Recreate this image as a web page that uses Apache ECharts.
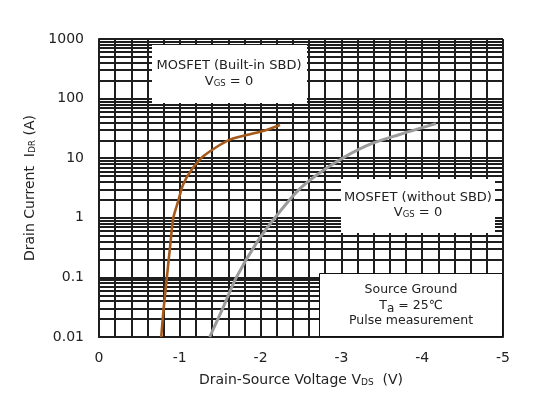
<!DOCTYPE html>
<html>
<head>
<meta charset="utf-8">
<script src="https://cdn.jsdelivr.net/npm/echarts@6/dist/echarts.min.js"></script>
<style>
html,body{margin:0;padding:0;background:#fff;}
#c{width:557px;height:398px;}
</style>
</head>
<body>
<div id="c"></div>
<script>
// Data (V_DS in volts, I_DR in amperes)
var builtInV = [-0.77, -0.80, -0.84, -0.877, -0.92, -0.98, -1.04, -1.15, -1.29, -1.62, -2.03, -2.24];
var builtInI = [0.01, 0.03, 0.1, 0.3, 1.0, 1.9, 3.6, 6.5, 10.8, 20.5, 28.5, 36];
var withoutV = [-1.37, -1.53, -1.70, -1.95, -2.19, -2.50, -2.89, -3.30, -3.72, -4.17];
var withoutI = [0.01, 0.03, 0.1, 0.38, 1.05, 3.2, 7.9, 16, 25, 38];
var yTickLabels = ['0.01', '0.1', '1', '10', '100', '1000'];
var xTickLabels = ['0', '-1', '-2', '-3', '-4', '-5'];
var decadeStarts = [0.01, 0.1, 1, 10, 100];
var minorMultipliers = [2, 3, 4, 5, 6, 7, 8, 9];

var FONT = 'DejaVu Sans';
var GRID_COLOR = '#1e1e1e';

function pairs(xs, ys) {
  return xs.map(function (x, i) { return [x, ys[i]]; });
}

var minorLines = [];
decadeStarts.forEach(function (d) {
  minorMultipliers.forEach(function (m) {
    minorLines.push({ yAxis: +(d * m).toPrecision(3) });
  });
});

var chart = echarts.init(document.getElementById('c'), null, { renderer: 'canvas' });

var subRich = {
  n: { fontFamily: FONT, fontSize: 14, color: '#222' },
  s: { fontFamily: FONT, fontSize: 9, color: '#222', verticalAlign: 'bottom', padding: [4, 0, 0, 0] }
};

chart.setOption({
  backgroundColor: '#ffffff',
  animation: false,
  grid: { left: 99, right: 54, top: 39, bottom: 61, containLabel: false },
  xAxis: {
    type: 'value',
    min: -5, max: 0, interval: 1,
    inverse: true,
    name: '{n|Drain-Source Voltage V}{s|DS}{n|  (V)}',
    nameLocation: 'middle',
    nameGap: 36,
    nameTextStyle: { rich: subRich },
    axisLine: { show: true, lineStyle: { color: GRID_COLOR, width: 2 } },
    axisTick: { show: false },
    axisLabel: {
      margin: 14,
      fontFamily: FONT, fontSize: 14, color: '#222',
      formatter: function (v) {
        var idx = Math.round(-v);
        return xTickLabels[idx] !== undefined ? xTickLabels[idx] : String(v);
      }
    },
    splitLine: { show: true, lineStyle: { color: GRID_COLOR, width: 2 } },
    minorTick: { show: false, splitNumber: 5 },
    minorSplitLine: { show: true, lineStyle: { color: GRID_COLOR, width: 2 } }
  },
  yAxis: {
    type: 'log',
    logBase: 10,
    min: 0.01, max: 1000,
    name: '{n|Drain Current  I}{s|DR}{n| (A)}',
    nameLocation: 'middle',
    nameGap: 55,
    nameRotate: 90,
    nameTextStyle: { rich: subRich },
    axisLine: { show: true, lineStyle: { color: GRID_COLOR, width: 2 } },
    axisTick: { show: false },
    axisLabel: {
      margin: 15,
      fontFamily: FONT, fontSize: 14, color: '#222',
      formatter: function (v) {
        var k = Math.round(Math.log10(v)) + 2;
        return yTickLabels[k] !== undefined ? yTickLabels[k] : String(v);
      }
    },
    splitLine: { show: true, lineStyle: { color: GRID_COLOR, width: 2 } }
  },
  series: [
    {
      type: 'line',
      name: 'grid-minor',
      data: [],
      silent: true,
      markLine: {
        silent: true,
        symbol: ['none', 'none'],
        label: { show: false },
        lineStyle: { color: GRID_COLOR, width: 2, type: 'solid' },
        emphasis: { disabled: true },
        animation: false,
        data: minorLines
      }
    },
    {
      type: 'line',
      name: 'MOSFET (Built-in SBD)',
      data: pairs(builtInV, builtInI),
      showSymbol: false,
      smooth: 0.25,
      lineStyle: { color: '#a5591a', width: 2.6 },
      z: 5
    },
    {
      type: 'line',
      name: 'MOSFET (without SBD)',
      data: pairs(withoutV, withoutI),
      showSymbol: false,
      smooth: 0.3,
      lineStyle: { color: '#9b9b9b', width: 3 },
      z: 5
    }
  ],
  graphic: [
    { type: 'rect', z: 100, shape: { x: 152, y: 45, width: 155, height: 58 }, style: { fill: '#fff' } },
    { type: 'text', z: 101, x: 229, y: 66, style: { text: 'MOSFET (Built-in SBD)', font: '13px "DejaVu Sans"', fill: '#222', align: 'center', verticalAlign: 'middle' } },
    { type: 'text', z: 101, x: 229, y: 82, style: {
        text: '{n|V}{s|GS}{n| = 0}', align: 'center', verticalAlign: 'middle',
        rich: { n: { fontFamily: FONT, fontSize: 13, fill: '#222' }, s: { fontFamily: FONT, fontSize: 8.5, fill: '#222', verticalAlign: 'bottom', padding: [4, 0, 0, 0] } } } },

    { type: 'rect', z: 100, shape: { x: 341, y: 179, width: 154, height: 54 }, style: { fill: '#fff' } },
    { type: 'text', z: 101, x: 418, y: 198, style: { text: 'MOSFET (without SBD)', font: '13px "DejaVu Sans"', fill: '#222', align: 'center', verticalAlign: 'middle' } },
    { type: 'text', z: 101, x: 418, y: 213, style: {
        text: '{n|V}{s|GS}{n| = 0}', align: 'center', verticalAlign: 'middle',
        rich: { n: { fontFamily: FONT, fontSize: 13, fill: '#222' }, s: { fontFamily: FONT, fontSize: 8.5, fill: '#222', verticalAlign: 'bottom', padding: [4, 0, 0, 0] } } } },

    { type: 'rect', z: 100, shape: { x: 319.5, y: 273.5, width: 183, height: 63 }, style: { fill: '#fff', stroke: '#111', lineWidth: 1 } },
    { type: 'text', z: 101, x: 411, y: 290, style: { text: 'Source Ground', font: '12.5px "DejaVu Sans"', fill: '#222', align: 'center', verticalAlign: 'middle' } },
    { type: 'text', z: 101, x: 411, y: 306, style: {
        text: '{n|T}{s|a}{n| = 25℃}', align: 'center', verticalAlign: 'middle',
        rich: { n: { fontFamily: FONT, fontSize: 12.5, fill: '#222' }, s: { fontFamily: FONT, fontSize: 12, fill: '#222', verticalAlign: 'bottom', padding: [6, 0, 0, 0] } } } },
    { type: 'text', z: 101, x: 411, y: 321, style: { text: 'Pulse measurement', font: '12.5px "DejaVu Sans"', fill: '#222', align: 'center', verticalAlign: 'middle' } }
  ]
});
</script>
</body>
</html>
